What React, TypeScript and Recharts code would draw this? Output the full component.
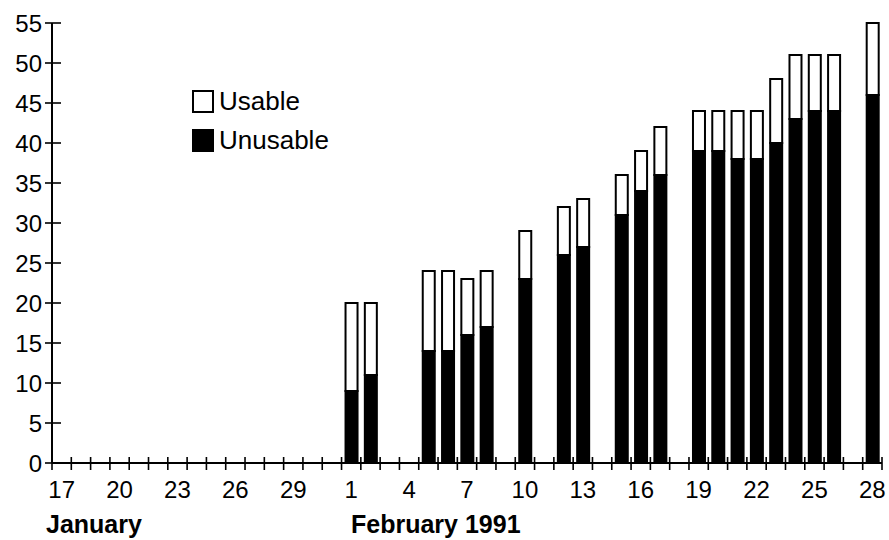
import React from 'react';
import { BarChart, Bar, XAxis, YAxis, Legend } from 'recharts';

// Jan 17 .. Jan 31, then Feb 1 .. Feb 28 (one category per day)
const JAN_DAYS = ['17', '18', '19', '20', '21', '22', '23', '24', '25', '26', '27', '28', '29', '30', '31'];
const FEB_DAYS = [
  '1', '2', '3', '4', '5', '6', '7', '8', '9', '10', '11', '12', '13', '14',
  '15', '16', '17', '18', '19', '20', '21', '22', '23', '24', '25', '26', '27', '28',
];

const JAN_UNUSABLE = [0, 0, 0, 0, 0, 0, 0, 0, 0, 0, 0, 0, 0, 0, 0];
const JAN_USABLE = [0, 0, 0, 0, 0, 0, 0, 0, 0, 0, 0, 0, 0, 0, 0];
const FEB_UNUSABLE = [
  9, 11, 0, 0, 14, 14, 16, 17, 0, 23, 0, 26, 27, 0,
  31, 34, 36, 0, 39, 39, 38, 38, 40, 43, 44, 44, 0, 46,
];
const FEB_USABLE = [
  11, 9, 0, 0, 10, 10, 7, 7, 0, 6, 0, 6, 6, 0,
  5, 5, 6, 0, 5, 5, 6, 6, 8, 8, 7, 7, 0, 9,
];

const Y_TICKS = [0, 5, 10, 15, 20, 25, 30, 35, 40, 45, 50, 55];

const data = [
  ...JAN_DAYS.map((d, i) => ({ key: `jan-${d}`, day: d, unusable: JAN_UNUSABLE[i], usable: JAN_USABLE[i] })),
  ...FEB_DAYS.map((d, i) => ({ key: `feb-${d}`, day: d, unusable: FEB_UNUSABLE[i], usable: FEB_USABLE[i] })),
];

const FONT = '"Liberation Sans", Arial, Helvetica, sans-serif';
const PLOT_WIDTH = 830;
const BAND = PLOT_WIDTH / data.length;

const XTick = (props: any) => {
  const { x, y, index } = props;
  const half = BAND / 2;
  const last = index === data.length - 1;
  return (
    <g>
      <line x1={x - half} x2={x - half} y1={y - 6} y2={y + 7} stroke="#000" strokeWidth={1.6} />
      {last && <line x1={x + half} x2={x + half} y1={y - 6} y2={y + 7} stroke="#000" strokeWidth={1.6} />}
      {index % 3 === 0 && (
        <text x={x} y={y + 35} textAnchor="middle" fontSize={24} fontFamily={FONT} fill="#000">
          {data[index].day}
        </text>
      )}
    </g>
  );
};

const YTick = (props: any) => {
  const { x, y, payload } = props;
  return (
    <g>
      <line x1={x - 7} x2={x + 9} y1={y} y2={y} stroke="#000" strokeWidth={1.6} />
      <text x={x - 10} y={y} dy={9} textAnchor="end" fontSize={24} fontFamily={FONT} fill="#000">
        {payload.value}
      </text>
    </g>
  );
};

const renderLegend = () => (
  <div style={{ fontFamily: FONT, fontSize: 26, color: '#000', lineHeight: '26px' }}>
    <div style={{ display: 'flex', alignItems: 'center', height: 24, marginBottom: 15 }}>
      <div style={{ width: 18, height: 19, border: '2px solid #000', background: '#fff', marginRight: 5 }} />
      <span>Usable</span>
    </div>
    <div style={{ display: 'flex', alignItems: 'center', height: 24 }}>
      <div style={{ width: 22, height: 23, background: '#000', marginRight: 5 }} />
      <span>Unusable</span>
    </div>
  </div>
);

export default function App() {
  return (
    <div style={{ position: 'absolute', left: 0, top: 0, width: 889, height: 540, background: '#fff' }}>
      <BarChart
        width={889}
        height={540}
        data={data}
        margin={{ top: 23, right: 7, bottom: 7, left: 8 }}
        barSize={12}
      >
        <XAxis
          dataKey="key"
          interval={0}
          tickSize={0}
          tickMargin={0}
          height={70}
          axisLine={{ stroke: '#000', strokeWidth: 2 }}
          tickLine={false}
          tick={<XTick />}
        />
        <YAxis
          domain={[0, 55]}
          ticks={Y_TICKS}
          interval={0}
          width={44}
          tickSize={0}
          tickMargin={0}
          axisLine={{ stroke: '#000', strokeWidth: 2 }}
          tickLine={false}
          tick={<YTick />}
        />
        <Legend
          content={renderLegend}
          layout="vertical"
          verticalAlign="middle"
          align="center"
          wrapperStyle={{ position: 'absolute', left: 192, top: 89, width: 200 }}
        />
        <Bar dataKey="unusable" name="Unusable" stackId="a" fill="#000" stroke="#000" strokeWidth={2} isAnimationActive={false} />
        <Bar dataKey="usable" name="Usable" stackId="a" fill="#fff" stroke="#000" strokeWidth={2} isAnimationActive={false} />
      </BarChart>
      <div style={{ position: 'absolute', left: 46, top: 510, fontFamily: FONT, fontWeight: 'bold', fontSize: 25, color: '#000' }}>
        January
      </div>
      <div style={{ position: 'absolute', left: 351, top: 510, fontFamily: FONT, fontWeight: 'bold', fontSize: 25, color: '#000' }}>
        February 1991
      </div>
    </div>
  );
}
